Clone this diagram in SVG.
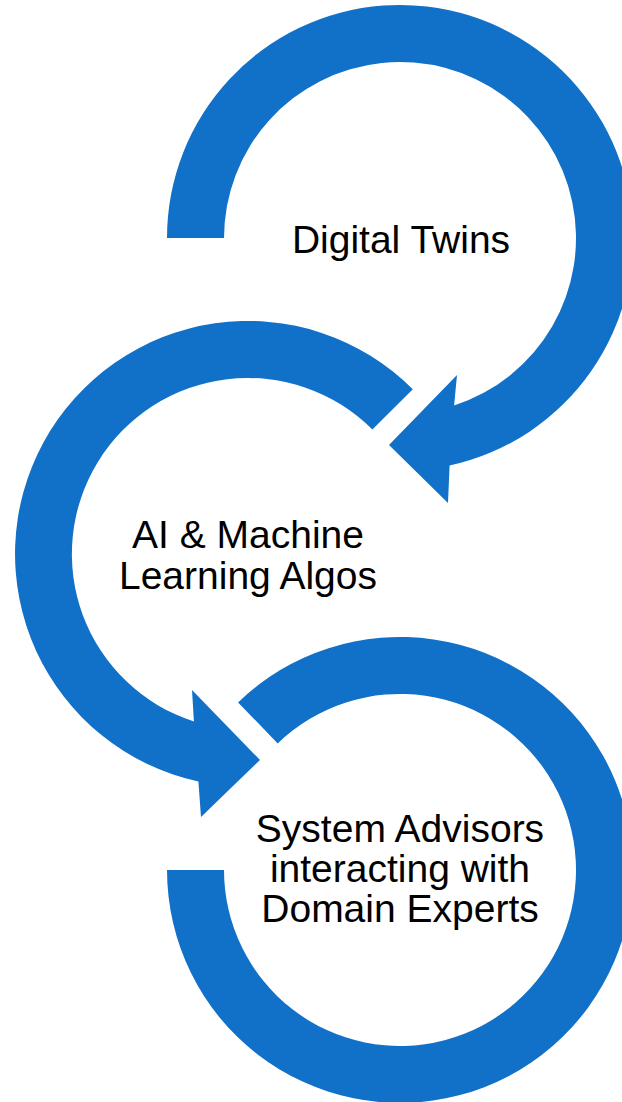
<svg xmlns="http://www.w3.org/2000/svg" width="622" height="1102" viewBox="0 0 622 1102">
<style>
.arr{fill:#1170C8;stroke:none}
.lbl{font-family:"Liberation Sans",Arial,sans-serif;font-size:39px;fill:#000;text-anchor:middle}
</style>
<rect width="622" height="1102" fill="#fff"/>
<g id="connectors">
<path id="arrow1" class="arr" d="M 167 238 A 233 233 0 1 1 449.6 465.6 L 448 503 L 389 445 L 457 375 L 454.1 405.5 A 176 176 0 1 0 224 238 Z"/>
<path id="arrow2" class="arr" d="M 412.8 389.2 A 233 233 0 1 0 198.4 781.6 L 201 817 L 260 760 L 192 690 L 193.9 721.5 A 176 176 0 1 1 372.4 429.6 Z"/>
<path id="arrow3" class="arr" d="M 238.1 702.4 A 233 233 0 1 1 167 870 L 224 870 A 176 176 0 1 0 277.7 743.4 Z"/>
</g>
<g id="node1">
<text class="lbl" x="401" y="253">Digital Twins</text>
</g>
<g id="node2">
<text class="lbl" x="248" y="548">AI &amp; Machine</text>
<text class="lbl" x="248" y="589">Learning Algos</text>
</g>
<g id="node3">
<text class="lbl" x="400" y="842">System Advisors</text>
<text class="lbl" x="400" y="882">interacting with</text>
<text class="lbl" x="400" y="922">Domain Experts</text>
</g>
</svg>
